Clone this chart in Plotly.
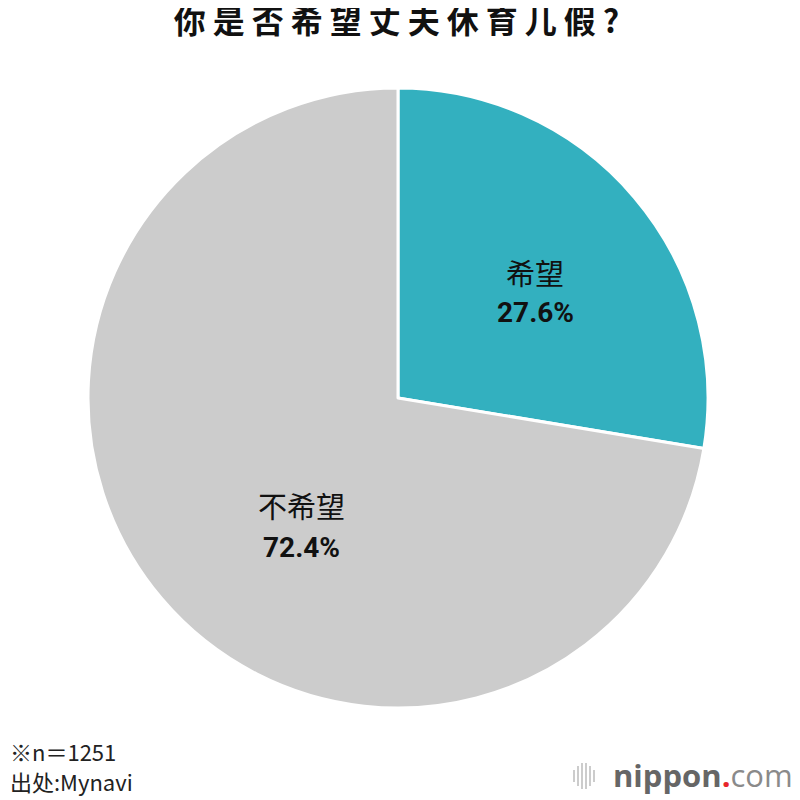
import plotly.graph_objects as go

# data
labels = ['希望', '不希望']
values = [27.6, 72.4]
colors = ['#33B0BF', '#CCCCCC']
title_text = '你是否希望丈夫休育儿假?'
note_lines = ['※n＝1251', '出处:Mynavi']

CJK = 'Noto Sans CJK SC'
NUM = 'Roboto, Arial'

W = H = 800
OFF = 8  # page body margin shifts the figure by 8px


def px(x):
    return (x - OFF) / W


def py(y):
    return 1 - (y - OFF) / H


fig = go.Figure()
fig.add_trace(go.Pie(
    labels=labels,
    values=values,
    sort=False,
    direction='clockwise',
    rotation=0,
    marker=dict(colors=colors, line=dict(color='white', width=3)),
    textinfo='none',
    hoverinfo='label+percent',
    domain=dict(x=[px(88), px(708)], y=[py(708), py(88)]),
    showlegend=False,
))

# slice labels
label_pos = [(535, 272, 312), (301, 505, 547)]
for lab, val, (lx, ly1, ly2) in zip(labels, values, label_pos):
    fig.add_annotation(
        x=px(lx), y=py(ly1), xref='paper', yref='paper',
        xanchor='center', yanchor='middle',
        text=lab, showarrow=False,
        font=dict(family=CJK, size=29, color='#111111'),
    )
    fig.add_annotation(
        x=px(lx), y=py(ly2), xref='paper', yref='paper',
        xanchor='center', yanchor='middle',
        text=f'<b>{val:.1f}%</b>', showarrow=False,
        font=dict(family=NUM, size=28, color='#111111'),
    )

# footnote
for i, line in enumerate(note_lines):
    fig.add_annotation(
        x=px(8), y=py(751 + i * 30), xref='paper', yref='paper',
        xanchor='left', yanchor='middle',
        text=line, showarrow=False,
        font=dict(family=CJK, size=22, color='#222222'),
    )

# logo
fig.add_annotation(
    x=px(795), y=py(775), xref='paper', yref='paper',
    xanchor='right', yanchor='middle', showarrow=False,
    text=("<span style='color:#666666'><b>nippon</b></span>"
          "<span style='color:#E8262B'><b>.</b></span>"
          "<span style='color:#8A8A8A'>com</span>"),
    font=dict(family='Open Sans', size=31),
)
bar_x = [574, 578, 582, 586, 590, 594]
bar_h = [6, 10, 13, 13, 10, 6]
for bx, bh in zip(bar_x, bar_h):
    fig.add_shape(
        type='line', xref='paper', yref='paper',
        x0=px(bx), x1=px(bx),
        y0=py(776 + bh), y1=py(776 - bh),
        line=dict(color='#BBBBBB', width=1.5),
    )

fig.update_layout(
    title=dict(
        text=f"<span style='letter-spacing:7px'>{title_text}</span>",
        x=px(400), xanchor='center', y=py(22), yanchor='middle',
        font=dict(family=CJK, size=32, color='#111111', weight=700),
    ),
    width=W, height=H,
    margin=dict(l=0, r=0, t=0, b=0),
    paper_bgcolor='white',
    plot_bgcolor='white',
)

fig.write_html('out.html')
